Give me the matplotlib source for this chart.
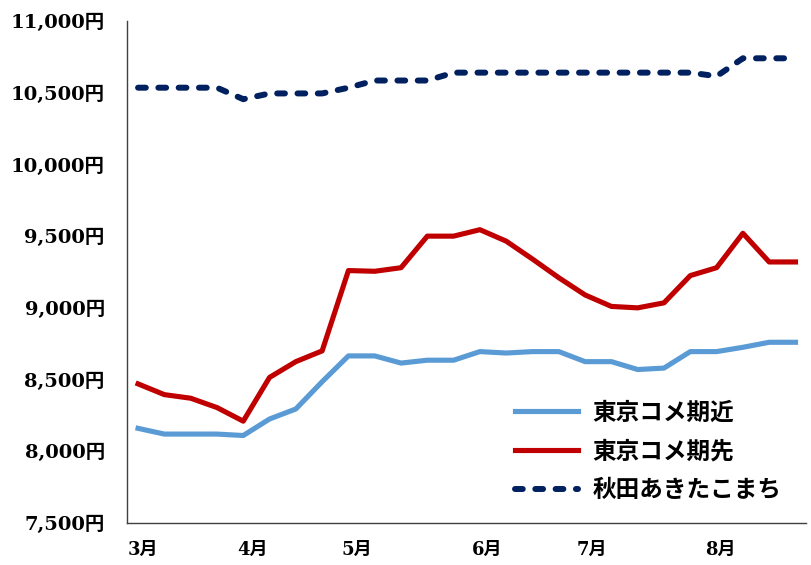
import numpy as np
import matplotlib
matplotlib.use("Agg")
import matplotlib.pyplot as plt

# 週次データ (3月〜8月)
near = [8160, 8120, 8120, 8120, 8110, 8225, 8295, 8485, 8665, 8665,
        8615, 8635, 8635, 8695, 8685, 8695, 8695, 8625, 8625, 8570,
        8580, 8695, 8695, 8725, 8760, 8760]
far = [8470, 8395, 8370, 8305, 8210, 8515, 8625, 8700, 9260, 9255,
       9280, 9500, 9500, 9545, 9465, 9340, 9210, 9090, 9010, 9000,
       9035, 9225, 9280, 9520, 9320, 9320]
akita = [10535, 10535, 10535, 10535, 10455, 10495, 10495, 10495, 10535, 10585,
         10585, 10585, 10640, 10640, 10640, 10640, 10640, 10640, 10640, 10640,
         10640, 10640, 10615, 10740, 10740, 10740]
labels = ["東京コメ期近", "東京コメ期先", "秋田あきたこまち"]
months = ["3月", "4月", "5月", "6月", "7月", "8月"]
month_pos = [0.17, 4.37, 8.33, 13.27, 17.26, 22.13]
yticks = [7500, 8000, 8500, 9000, 9500, 10000, 10500, 11000]

fam = ["DejaVu Serif", "Noto Sans CJK JP"]
x = np.arange(len(near))

fig = plt.figure(figsize=(8.11, 5.65), dpi=100)
ax = fig.add_axes([127 / 811, 1 - 523 / 565, 679 / 811, 502 / 565])

ax.plot(x, near, color="#5B9BD5", lw=3.7, solid_joinstyle="round", label=labels[0])
ax.plot(x, far, color="#C00000", lw=3.7, solid_joinstyle="round", label=labels[1])
ax.plot(x, akita, color="#002060", lw=4.3, dashes=(1.3, 2.1),
        dash_capstyle="round", label=labels[2])

ax.set_xlim(-0.42, 25.4)
ax.set_ylim(7500, 11000)
ax.set_yticks(yticks)
ax.set_yticklabels([f"{v:,}円" for v in yticks], family=fam, fontweight="bold", fontsize=14)
ax.set_xticks(month_pos)
ax.set_xticklabels(months, family=fam, fontweight="bold", fontsize=13)
ax.tick_params(axis="y", length=0, pad=16)
ax.tick_params(axis="x", length=0, pad=13)

for s in ["top", "right"]:
    ax.spines[s].set_visible(False)
for s in ["left", "bottom"]:
    ax.spines[s].set_color("#404040")
    ax.spines[s].set_linewidth(1.0)

ax.legend(loc="center left", bbox_to_anchor=(0.571, 0.143), frameon=False,
          borderaxespad=0, borderpad=0, handlelength=2.7, handletextpad=0.6,
          labelspacing=0.62,
          prop={"family": "Noto Sans CJK JP", "weight": "bold", "size": 17})

fig.savefig("out.png", dpi=100)
